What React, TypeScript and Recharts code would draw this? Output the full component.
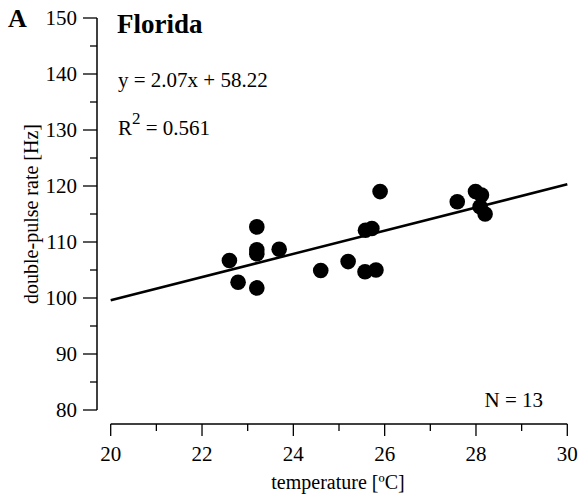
import React from "react";
import { ScatterChart, Scatter, XAxis, YAxis, ReferenceLine } from "recharts";

const temps = [22.6, 22.79, 23.2, 23.2, 23.2, 23.2, 23.69, 24.6, 25.2, 25.57, 25.81, 25.58, 25.72, 25.9, 27.59, 27.99, 28.12, 28.09, 28.2];
const rates = [106.7, 102.8, 112.7, 108.6, 107.9, 101.8, 108.7, 104.9, 106.5, 104.7, 105.0, 112.1, 112.4, 119.0, 117.2, 119.0, 118.4, 116.3, 115.0];

// fitted line y = 2.07x + 58.22, end points
const fitTemps = [20, 30];
const fitRates = [99.6, 120.3];

const xTicks = [20, 21, 22, 23, 24, 25, 26, 27, 28, 29, 30];
const yTicks = [80, 85, 90, 95, 100, 105, 110, 115, 120, 125, 130, 135, 140, 145, 150];

// detached axis lines sit a bit outside the data box
const AXIS_X = 19.7;
const AXIS_Y = 77.5;

const points = temps.map((t, i) => ({ x: t, y: rates[i] }));
const fit = fitTemps.map((t, i) => ({ x: t, y: fitRates[i] }));

const FONT = "'Liberation Serif', 'Times New Roman', serif";

const XTick = (props: any) => {
  const { x, y, payload } = props;
  const major = payload.value % 2 === 0;
  const y0 = y + 14;
  return (
    <g>
      <line x1={x} x2={x} y1={y0} y2={y0 + (major ? 12 : 7)} stroke="#000" strokeWidth={1.3} />
      {major && (
        <text x={x} y={y + 51} textAnchor="middle" fontFamily={FONT} fontSize={21} fill="#000">
          {payload.value}
        </text>
      )}
    </g>
  );
};

const YTick = (props: any) => {
  const { x, y, payload } = props;
  const major = payload.value % 10 === 0;
  const x0 = x - 13.7;
  return (
    <g>
      <line x1={x0} x2={x0 - (major ? 14 : 7)} y1={y} y2={y} stroke="#000" strokeWidth={1.3} />
      {major && (
        <text x={x0 - 20} y={y + 7} textAnchor="end" fontFamily={FONT} fontSize={21} fill="#000">
          {payload.value}
        </text>
      )}
    </g>
  );
};

const Empty = () => <g />;

export default function App() {
  return (
    <div style={{ position: "absolute", left: 0, top: 0, width: 579, height: 498, background: "#fff" }}>
      <ScatterChart width={579} height={498} margin={{ top: 18, right: 11.7, left: 60.7, bottom: 38 }}>
        <XAxis
          type="number"
          dataKey="x"
          domain={[20, 30]}
          ticks={xTicks}
          interval={0}
          axisLine={false}
          tickLine={false}
          tickSize={0}
          tickMargin={0}
          tick={<XTick />}
          height={50}
        />
        <YAxis
          type="number"
          dataKey="y"
          domain={[80, 150]}
          ticks={yTicks}
          interval={0}
          axisLine={false}
          tickLine={false}
          tickSize={0}
          tickMargin={0}
          tick={<YTick />}
          width={50}
        />
        <ReferenceLine
          segment={[{ x: AXIS_X, y: 80 }, { x: AXIS_X, y: 150 }]}
          stroke="#000"
          strokeWidth={1.5}
          ifOverflow="visible"
        />
        <ReferenceLine
          segment={[{ x: 20, y: AXIS_Y }, { x: 30, y: AXIS_Y }]}
          stroke="#000"
          strokeWidth={1.5}
          ifOverflow="visible"
        />
        <Scatter data={fit} line={{ stroke: "#000", strokeWidth: 2.5 }} shape={<Empty />} isAnimationActive={false} />
        <Scatter
          data={points}
          fill="#000"
          isAnimationActive={false}
          shape={(p: any) => <circle cx={p.cx} cy={p.cy} r={7.8} fill="#000" />}
        />
      </ScatterChart>
      <svg width={579} height={498} style={{ position: "absolute", left: 0, top: 0, pointerEvents: "none" }}>
        <g fontFamily={FONT} fill="#000">
          <text x={8} y={27} fontSize={26} fontWeight="bold">A</text>
          <text x={117} y={33} fontSize={27} fontWeight="bold">Florida</text>
          <text x={118} y={87} fontSize={21}>y = 2.07x + 58.22</text>
          <text x={118} y={135} fontSize={21}>
            R<tspan fontSize={17} dy={-11}>2</tspan>
            <tspan dy={11}> = 0.561</tspan>
          </text>
          <text x={543} y={407} fontSize={21} textAnchor="end">N = 13</text>
          <text x={338} y={489} fontSize={20} textAnchor="middle">temperature [ºC]</text>
          <text x={38} y={214} fontSize={20} textAnchor="middle" transform="rotate(-90 38 214)">
            double-pulse rate [Hz]
          </text>
        </g>
      </svg>
    </div>
  );
}
